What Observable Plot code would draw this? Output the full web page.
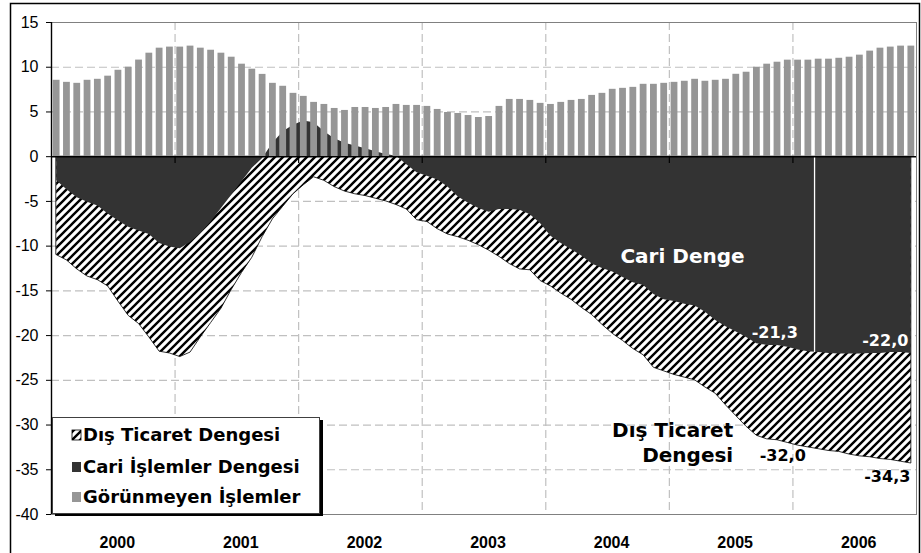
<!DOCTYPE html>
<html><head><meta charset="utf-8">
<script src="https://cdn.jsdelivr.net/npm/d3@7"></script>
<script src="https://cdn.jsdelivr.net/npm/@observablehq/plot@0.6"></script>
<style>
body{margin:0;background:#fff}
#chart svg{display:block}
</style>
</head><body>
<svg width="0" height="0" style="position:absolute">
<defs>
<pattern id="hatch" patternUnits="userSpaceOnUse" width="8" height="8">
<rect width="8" height="8" fill="#fff"/>
<path d="M-2,2 L2,-2 M0,8 L8,0 M6,10 L10,6" stroke="#000" stroke-width="2.4"/>
</pattern>
</defs></svg>
<div id="chart"></div>
<script>
const years = ["2000","2001","2002","2003","2004","2005","2006"];

// Görünmeyen İşlemler (monthly, 2000-2006)
const gorunmeyen = [
  8.54, 8.31, 8.2, 8.54, 8.65, 9.0, 9.66, 10.0, 10.8, 11.57, 12.13, 12.25,
  12.25, 12.36, 12.13, 11.9, 11.57, 11.12, 10.34, 9.78, 9.2, 8.2, 7.87, 7.08,
  6.74, 6.07, 5.84, 5.39, 5.17, 5.5, 5.5, 5.39, 5.5, 5.84, 5.73, 5.73,
  5.62, 5.28, 4.94, 4.83, 4.6, 4.38, 4.49, 5.62, 6.4, 6.4, 6.29, 5.96,
  5.84, 6.07, 6.29, 6.4, 6.85, 7.08, 7.53, 7.64, 7.75, 8.09, 8.09, 8.2,
  8.31, 8.43, 8.65, 8.43, 8.54, 8.65, 9.21, 9.44, 10.0, 10.34, 10.56, 10.79,
  10.79, 10.79, 10.9, 10.9, 11.0, 11.12, 11.35, 11.8, 12.13, 12.25, 12.36, 12.36
];

// Cari İşlemler Dengesi
const cari = [
  -2.7, -3.7, -4.6, -5.1, -5.5, -6.4, -7.2, -7.9, -8.3, -8.7, -9.7, -10.1,
  -10.3, -9.6, -8.6, -7.3, -5.8, -4.3, -2.8, -1.3, -0.2, 1.5, 2.8, 3.5,
  4.0, 3.8, 2.8, 2.0, 1.5, 1.2, 0.9, 0.55, 0.25, 0.05, -0.9, -1.8,
  -2.2, -2.6, -3.4, -4.5, -5.2, -5.8, -6.2, -5.9, -5.9, -6.0, -6.5, -7.5,
  -8.9, -9.7, -10.4, -11.1, -12.0, -12.5, -12.9, -13.5, -14.1, -14.4, -15.4, -16.0,
  -16.2, -16.5, -16.7, -17.4, -18.3, -19.0, -19.6, -20.2, -20.9, -21.1, -21.1, -21.3,
  -21.6, -21.8, -21.9, -22.0, -22.05, -22.05, -22.05, -22.0, -22.0, -21.9, -21.9, -22.0
];

// Dış Ticaret Dengesi
const disTicaret = [
  -11.0, -11.6, -12.6, -13.4, -13.8, -14.5, -16.2, -17.8, -18.7, -20.2, -21.8, -22.0,
  -22.4, -21.9, -20.2, -18.6, -17.0, -14.9, -13.0, -11.3, -9.0, -7.0, -5.6, -4.2,
  -3.2, -2.3, -2.7, -3.4, -3.9, -4.2, -4.4, -4.7, -5.0, -5.4, -5.9, -7.1,
  -7.3, -8.1, -8.7, -9.0, -9.4, -9.9, -10.5, -11.2, -12.0, -12.6, -12.7, -13.9,
  -14.5, -15.3, -16.0, -16.9, -17.7, -18.8, -19.8, -20.6, -21.5, -22.2, -23.6, -24.0,
  -24.4, -24.7, -25.0, -25.8, -26.5, -27.8, -29.0, -30.2, -31.2, -31.6, -31.7, -32.0,
  -32.3, -32.5, -32.7, -32.9, -33.0, -33.3, -33.5, -33.6, -33.8, -33.9, -34.1, -34.3
];

const yTicks = [15, 10, 5, 0, -5, -10, -15, -20, -25, -30, -35, -40];
const yGrid = [10, 5, -5, -10, -15, -20, -25, -30, -35];
const labelMonths = [71, 83];
const splitMonth = 74.1;
const legendLabels = ["Dış Ticaret Dengesi", "Cari İşlemler Dengesi", "Görünmeyen İşlemler"];
const colors = {dark: "#333333", bar: "#969696", grid: "#c0c0c0"};

const nMonths = gorunmeyen.length;
const rows = d3.range(nMonths).map(i => ({i, inv: gorunmeyen[i], ca: cari[i], tb: disTicaret[i]}));
const yearBounds = d3.range(1, years.length).map(k => k * 12);
const yearCenters = years.map((y, k) => k * 12 + 6);
const fmt = v => v.toFixed(1).replace(".", ",");
const caLabels = labelMonths.map(i => ({x: i + 0.5, y: cari[i], t: fmt(cari[i])}));
const tbLabels = labelMonths.map(i => ({x: i + 0.5, y: disTicaret[i], t: fmt(disTicaret[i])}));
const boldFont = "'DejaVu Sans', Verdana, sans-serif";

const chart = Plot.plot({
  width: 921, height: 553,
  marginLeft: 51, marginRight: 5, marginTop: 22, marginBottom: 39,
  x: {domain: [0, nMonths]},
  y: {domain: [-40, 15]},
  style: {fontFamily: "'Liberation Sans', Arial, sans-serif", color: "#000", background: "#fff"},
  marks: [
    Plot.ruleY(yGrid, {stroke: colors.grid, strokeWidth: 1.2, strokeDasharray: "8,4"}),
    Plot.ruleX(yearBounds, {stroke: colors.grid, strokeWidth: 1.2, strokeDasharray: "8,4"}),
    Plot.frame({stroke: "#808080"}),
    Plot.areaY(rows, {x: d => d.i + 0.5, y1: 0, y2: "tb", fill: "url(#hatch)", stroke: "#000", strokeWidth: 0.8, curve: "linear"}),
    Plot.areaY(rows, {x: d => d.i + 0.5, y1: 0, y2: "ca", fill: colors.dark, curve: "linear"}),
    Plot.rectY(rows, {x1: d => d.i + 0.17, x2: d => d.i + 0.83, y: "inv", fill: colors.bar}),
    Plot.ruleX([splitMonth], {y1: 0, y2: cari[74], stroke: "#fff", strokeWidth: 1.3}),
    Plot.ruleY([0], {stroke: "#000", strokeWidth: 1.6}),
    Plot.ruleX(yearBounds, {y1: 0, y2: -0.75, stroke: "#000", strokeWidth: 1.2}),
    Plot.ruleX([0], {stroke: "#000", strokeWidth: 1.4}),
    Plot.axisY(yTicks, {tickSize: 5, tickPadding: 8, fontSize: 16, tickFormat: d => String(d), label: null}),
    Plot.axisX(yearCenters, {tickSize: 0, tickPadding: 22, dx: 4, fontSize: 16, fontWeight: "bold", tickFormat: d => years[(d - 6) / 12], label: null}),
    Plot.text(["Cari Denge"], {x: 55.25, y: -10.25, text: d => d, textAnchor: "start", lineAnchor: "top", fill: "#fff", fontSize: 20, fontWeight: "bold", fontFamily: boldFont}),
    Plot.text(["Dış Ticaret\nDengesi"], {x: 66.2, y: -29.4, text: d => d, textAnchor: "end", lineAnchor: "top", lineHeight: 1.25, fill: "#000", fontSize: 20, fontWeight: "bold", fontFamily: boldFont}),
    Plot.text(caLabels.slice(0, 1), {x: "x", y: "y", text: "t", textAnchor: "end", dx: 10, dy: -14.6, fill: "#fff", fontSize: 16, fontWeight: "bold", fontFamily: boldFont}),
    Plot.text(caLabels.slice(1), {x: "x", y: "y", text: "t", textAnchor: "end", dx: -3, dy: -12.9, fill: "#fff", fontSize: 16, fontWeight: "bold", fontFamily: boldFont}),
    Plot.text(tbLabels.slice(0, 1), {x: "x", y: "y", text: "t", textAnchor: "end", dx: 18, dy: 12.6, fill: "#000", fontSize: 16, fontWeight: "bold", fontFamily: boldFont}),
    Plot.text(tbLabels.slice(1), {x: "x", y: "y", text: "t", textAnchor: "end", dx: -1, dy: 13.7, fill: "#000", fontSize: 16, fontWeight: "bold", fontFamily: boldFont})
  ]
});
document.getElementById("chart").appendChild(chart);

// legend box with shadow, and outer frame
const svg = d3.select(chart);
const lg = svg.append("g").attr("text-anchor", "start");
lg.append("rect").attr("x", 55).attr("y", 420).attr("width", 268).attr("height", 96).attr("fill", "#000");
lg.append("rect").attr("x", 52.5).attr("y", 417.5).attr("width", 267).attr("height", 96).attr("fill", "#fff").attr("stroke", "#404040");
const swFill = ["url(#hatch)", colors.dark, colors.bar];
const baselines = [441, 473, 503];
legendLabels.forEach((lab, k) => {
  lg.append("rect").attr("x", 72).attr("y", baselines[k] - 11).attr("width", 9).attr("height", 10)
    .attr("fill", swFill[k]).attr("stroke", k === 0 ? "#000" : "none").attr("stroke-width", 0.8);
  lg.append("text").attr("x", 83).attr("y", baselines[k]).attr("text-anchor", "start").text(lab)
    .attr("font-family", boldFont).attr("font-weight", "bold").attr("font-size", 18).attr("fill", "#000");
});
svg.append("rect").attr("x", 10.5).attr("y", 3.5).attr("width", 909).attr("height", 600)
  .attr("fill", "none").attr("stroke", "#000").attr("stroke-width", 1.5);
</script>
</body></html>
